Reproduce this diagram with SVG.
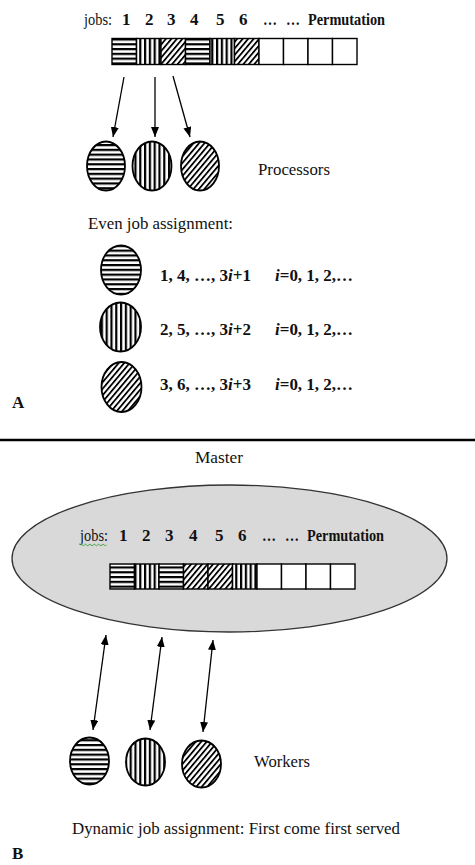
<svg xmlns="http://www.w3.org/2000/svg" width="475" height="865" viewBox="0 0 475 865">
  <style>
    .t { font-family: "Liberation Serif", "Times New Roman", serif; font-size: 17px; fill: #111; }
    .b { font-family: "Liberation Serif", "Times New Roman", serif; font-size: 17px; font-weight: bold; fill: #111; }
    .cell { stroke: #000; stroke-width: 1.4; }
    .proc { stroke: #000; stroke-width: 1.8; }
    .arrow { stroke: #000; stroke-width: 1.3; fill: none; }
  </style>
  <defs>
    <pattern id="hstripe" patternUnits="userSpaceOnUse" width="6" height="4.8">
      <rect width="6" height="4.8" fill="#fff"/>
      <rect y="0" width="6" height="2.2" fill="#000"/>
    </pattern>
    <pattern id="vstripe" patternUnits="userSpaceOnUse" width="4.8" height="6">
      <rect width="4.8" height="6" fill="#fff"/>
      <rect x="0" width="2.2" height="6" fill="#000"/>
    </pattern>
    <pattern id="dstripe" patternUnits="userSpaceOnUse" width="4.2" height="6" patternTransform="rotate(40)">
      <rect width="4.2" height="6" fill="#fff"/>
      <rect x="0" width="1.8" height="6" fill="#000"/>
    </pattern>
    <marker id="head" viewBox="0 0 10 8" refX="10" refY="4" markerWidth="10" markerHeight="8" markerUnits="userSpaceOnUse" orient="auto-start-reverse">
      <path d="M0,0 L10,4 L0,8 z" fill="#000"/>
    </marker>
  </defs>

  <!-- ===== Part A: even job assignment ===== -->
  <g id="jobs-row-a">
    <text class="t" x="84" y="25" textLength="28" lengthAdjust="spacingAndGlyphs">jobs:</text>
    <text class="b" x="122" y="25">1</text>
    <text class="b" x="145" y="25">2</text>
    <text class="b" x="167" y="25">3</text>
    <text class="b" x="190" y="25">4</text>
    <text class="b" x="216" y="25">5</text>
    <text class="b" x="239" y="25">6</text>
    <text class="b" x="263" y="25" textLength="14" lengthAdjust="spacingAndGlyphs">…</text>
    <text class="b" x="286" y="25" textLength="14" lengthAdjust="spacingAndGlyphs">…</text>
    <text class="b" x="308" y="25" textLength="77" lengthAdjust="spacingAndGlyphs">Permutation</text>
  </g>

  <g id="permutation-a">
    <rect class="cell" x="112" y="38.5" width="24.5" height="26" fill="url(#hstripe)"/>
    <rect class="cell" x="136.5" y="38.5" width="24.5" height="26" fill="url(#vstripe)"/>
    <rect class="cell" x="161" y="38.5" width="24.5" height="26" fill="url(#dstripe)"/>
    <rect class="cell" x="185.5" y="38.5" width="24.5" height="26" fill="url(#hstripe)"/>
    <rect class="cell" x="210" y="38.5" width="24.5" height="26" fill="url(#vstripe)"/>
    <rect class="cell" x="234.5" y="38.5" width="24.5" height="26" fill="url(#dstripe)"/>
    <rect class="cell" x="259" y="38.5" width="24.5" height="26" fill="#fff"/>
    <rect class="cell" x="283.5" y="38.5" width="24.5" height="26" fill="#fff"/>
    <rect class="cell" x="308" y="38.5" width="24.5" height="26" fill="#fff"/>
    <rect class="cell" x="332.5" y="38.5" width="24.5" height="26" fill="#fff"/>
  </g>

  <g id="connectors-a">
    <line class="arrow" x1="124" y1="77" x2="113" y2="137" marker-end="url(#head)"/>
    <line class="arrow" x1="155" y1="77" x2="155" y2="137" marker-end="url(#head)"/>
    <line class="arrow" x1="173" y1="76" x2="190" y2="137" marker-end="url(#head)"/>
  </g>

  <g id="processor-1"><ellipse class="proc" cx="106" cy="166" rx="19" ry="24.5" fill="url(#hstripe)"/></g>
  <g id="processor-2"><ellipse class="proc" cx="152" cy="166" rx="19.5" ry="24.5" fill="url(#vstripe)"/></g>
  <g id="processor-3"><ellipse class="proc" cx="200" cy="166" rx="19" ry="24.5" fill="url(#dstripe)"/></g>
  <text class="t" x="258" y="175" textLength="72" lengthAdjust="spacingAndGlyphs">Processors</text>

  <text class="t" x="88" y="229" textLength="145" lengthAdjust="spacingAndGlyphs">Even job assignment:</text>

  <g id="legend-1">
    <ellipse class="proc" cx="121" cy="270" rx="20" ry="24.5" fill="url(#hstripe)"/>
    <text class="b" x="160" y="281" textLength="91" lengthAdjust="spacingAndGlyphs">1, 4, …, 3<tspan font-style="italic">i</tspan>+1</text>
    <text class="b" x="275" y="281" textLength="78" lengthAdjust="spacingAndGlyphs"><tspan font-style="italic">i</tspan>=0, 1, 2,…</text>
  </g>
  <g id="legend-2">
    <ellipse class="proc" cx="120.5" cy="327" rx="20.5" ry="24.5" fill="url(#vstripe)"/>
    <text class="b" x="160" y="335" textLength="91" lengthAdjust="spacingAndGlyphs">2, 5, …, 3<tspan font-style="italic">i</tspan>+2</text>
    <text class="b" x="275" y="335" textLength="78" lengthAdjust="spacingAndGlyphs"><tspan font-style="italic">i</tspan>=0, 1, 2,…</text>
  </g>
  <g id="legend-3">
    <ellipse class="proc" cx="121.5" cy="387" rx="20" ry="25" fill="url(#dstripe)"/>
    <text class="b" x="160" y="390" textLength="91" lengthAdjust="spacingAndGlyphs">3, 6, …, 3<tspan font-style="italic">i</tspan>+3</text>
    <text class="b" x="275" y="390" textLength="78" lengthAdjust="spacingAndGlyphs"><tspan font-style="italic">i</tspan>=0, 1, 2,…</text>
  </g>

  <text class="b" x="12" y="408">A</text>

  <!-- divider -->
  <line x1="0" y1="440" x2="475" y2="440" stroke="#000" stroke-width="2.5"/>

  <!-- ===== Part B: dynamic job assignment ===== -->
  <text class="t" x="195" y="463" textLength="48" lengthAdjust="spacingAndGlyphs">Master</text>

  <g id="master">
    <ellipse cx="229.5" cy="558.5" rx="217.5" ry="73.5" fill="#d9d9d9" stroke="#333" stroke-width="1.3"/>
    <text class="t" x="80" y="541" textLength="28" lengthAdjust="spacingAndGlyphs">jobs:</text>
    <path d="M80,545 q1.1,-1.5 2.2,0 t2.2,0 t2.2,0 t2.2,0 t2.2,0 t2.2,0 t2.2,0 t2.2,0 t2.2,0 t2.2,0 t2.2,0 t2.2,0" fill="none" stroke="#3a9a3a" stroke-width="0.9"/>
    <text class="b" x="119" y="541">1</text>
    <text class="b" x="142" y="541">2</text>
    <text class="b" x="165" y="541">3</text>
    <text class="b" x="189" y="541">4</text>
    <text class="b" x="215" y="541">5</text>
    <text class="b" x="238" y="541">6</text>
    <text class="b" x="262" y="541" textLength="14" lengthAdjust="spacingAndGlyphs">…</text>
    <text class="b" x="285" y="541" textLength="14" lengthAdjust="spacingAndGlyphs">…</text>
    <text class="b" x="307" y="541" textLength="77" lengthAdjust="spacingAndGlyphs">Permutation</text>
    <rect class="cell" x="110" y="564" width="24.5" height="25" fill="url(#hstripe)"/>
    <rect class="cell" x="134.5" y="564" width="24.5" height="25" fill="url(#vstripe)"/>
    <rect class="cell" x="159" y="564" width="24.5" height="25" fill="url(#hstripe)"/>
    <rect class="cell" x="183.5" y="564" width="24.5" height="25" fill="url(#dstripe)"/>
    <rect class="cell" x="208" y="564" width="24.5" height="25" fill="url(#dstripe)"/>
    <rect class="cell" x="232.5" y="564" width="24.5" height="25" fill="url(#vstripe)"/>
    <rect class="cell" x="257" y="564" width="24.5" height="25" fill="#fff"/>
    <rect class="cell" x="281.5" y="564" width="24.5" height="25" fill="#fff"/>
    <rect class="cell" x="306" y="564" width="24.5" height="25" fill="#fff"/>
    <rect class="cell" x="330.5" y="564" width="24.5" height="25" fill="#fff"/>
  </g>

  <g id="connectors-b">
    <line class="arrow" x1="106" y1="635" x2="93" y2="730" marker-start="url(#head)" marker-end="url(#head)"/>
    <line class="arrow" x1="162" y1="637" x2="150" y2="730" marker-start="url(#head)" marker-end="url(#head)"/>
    <line class="arrow" x1="213" y1="640" x2="203" y2="732" marker-start="url(#head)" marker-end="url(#head)"/>
  </g>

  <g id="worker-1"><ellipse class="proc" cx="89.5" cy="761" rx="19.5" ry="23.5" fill="url(#hstripe)"/></g>
  <g id="worker-2"><ellipse class="proc" cx="145.5" cy="762" rx="19.5" ry="23.5" fill="url(#vstripe)"/></g>
  <g id="worker-3"><ellipse class="proc" cx="201.5" cy="764" rx="19.5" ry="23.5" fill="url(#dstripe)"/></g>
  <text class="t" x="254" y="767" textLength="56" lengthAdjust="spacingAndGlyphs">Workers</text>

  <text class="t" x="72" y="834" textLength="328" lengthAdjust="spacingAndGlyphs">Dynamic job assignment: First come first served</text>

  <text class="b" x="12" y="859">B</text>
</svg>
